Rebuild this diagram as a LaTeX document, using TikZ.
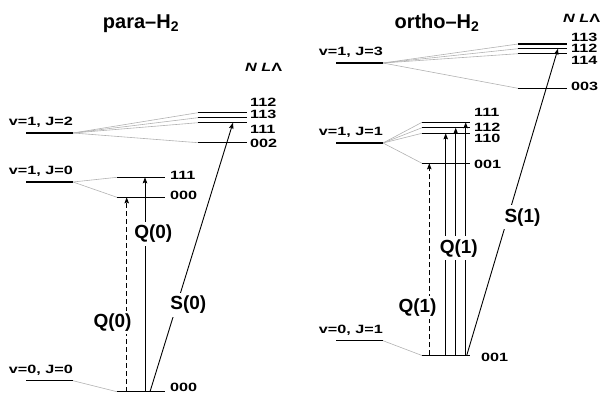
\documentclass[tikz,border=0pt]{standalone}
\usepackage{fontspec}
\setmainfont{Liberation Sans}
\newfontfamily\lvlfont{Liberation Sans}[FakeStretch=1.35,
  UprightFont={* Bold}, ItalicFont={* Bold Italic},
  BoldFont={* Bold}, BoldItalicFont={* Bold Italic}]
\usetikzlibrary{arrows.meta}

\begin{document}
\begin{tikzpicture}[x=1pt,y=-1pt,
  level/.style={line width=1.4pt},
  split/.style={draw=black!30, line width=0.6pt},
  trans/.style={line width=0.9pt, -{Stealth[length=6pt,width=4.5pt,inset=1pt]}},
  weak/.style={trans, dash pattern=on 5pt off 3pt},
  heading/.style={font=\bfseries\fontsize{20}{24}\selectfont, anchor=base, inner sep=0pt},
  state/.style={font=\lvlfont\fontsize{12}{14}\selectfont, anchor=base east, inner sep=0pt},
  sublevel/.style={font=\lvlfont\fontsize{12}{14}\selectfont, anchor=west, inner sep=0pt},
  branch/.style={font=\bfseries\fontsize{19}{22}\selectfont, fill=white, inner sep=3pt},
]
\useasboundingbox (0,0) rectangle (603,398);

% ---------------- para-H2 ----------------
\node[heading] (tpara) at (141,28.5) {para–H\textsubscript{2}};
\node[sublevel, anchor=base west] (qpara) at (245,71.7) {\itshape N L\upshape Λ};

% unperturbed rovibrational levels
\coordinate (pJ2w) at (26,133);    \coordinate (pJ2e) at (73,133);
\coordinate (pJ0w) at (26,182);    \coordinate (pJ0e) at (73,182);
\coordinate (pG0w) at (26,380.7);  \coordinate (pG0e) at (73,380.7);
% split sublevels
\coordinate (p112w) at (198,112.7); \coordinate (p112e) at (247,112.7);
\coordinate (p113w) at (198,117.7); \coordinate (p113e) at (247,117.7);
\coordinate (p11uw) at (198,122.7); \coordinate (p11ue) at (247,122.7);
\coordinate (p002w) at (198,142.7); \coordinate (p002e) at (247,142.7);
\coordinate (p111w) at (117,177.3); \coordinate (p111e) at (165,177.3);
\coordinate (p000w) at (117,197.3); \coordinate (p000e) at (165,197.3);
\coordinate (pgndw) at (117,391.7); \coordinate (pgnde) at (165,391.7);

\foreach \a in {p112w,p113w,p11uw,p002w} \draw[split] (pJ2e) -- (\a);
\foreach \a in {p111w,p000w} \draw[split] (pJ0e) -- (\a);
\draw[split] (pG0e) -- (pgndw);

\foreach \l in {pJ2,pJ0,pG0,p112,p113,p11u,p002,p111,p000,pgnd}
  \draw[level] (\l w) -- (\l e);

\node[state] (spJ2) at (73,126) {v=1, J=2};
\node[state] (spJ0) at (73,175) {v=1, J=0};
\node[state] (spG0) at (73,373.7) {v=0, J=0};

\node[sublevel] (lp112) at (250,102.3) {112};
\node[sublevel] (lp113) at (250,114.4) {113};
\node[sublevel] (lp11u) at (250,129.2) {111};
\node[sublevel] (lp002) at (250,143) {002};
\node[sublevel] (lp111) at (170,175) {111};
\node[sublevel] (lp000) at (170,195) {000};
\node[sublevel] (lpgnd) at (170,387.5) {000};

% transitions
\coordinate (pQd) at (126.7,391.7);
\coordinate (pQs) at (145,391.7);
\coordinate (pSa) at (150,391.7);
\coordinate (pSb) at (233,122.7);
\draw[weak]  (pQd) -- (pQd |- p000w);
\draw[trans] (pQs) -- (pQs |- p111w);
\draw[trans] (pSa) -- (pSb);

\node[branch] (bpQd) at (112.5,322.5) {Q(0)};
\node[branch] (bpQs) at (153.3,234) {Q(0)};
\node[branch] (bpS)  at (188.3,305) {S(0)};

% ---------------- ortho-H2 ----------------
\node[heading] (tortho) at (437,28.5) {ortho–H\textsubscript{2}};
\node[sublevel, anchor=base west] (qortho) at (563,22.5) {\itshape N L\upshape Λ};

\coordinate (oJ3w) at (336,63);    \coordinate (oJ3e) at (383,63);
\coordinate (oJ1w) at (336,143);   \coordinate (oJ1e) at (383,143);
\coordinate (oG1w) at (336,340.7); \coordinate (oG1e) at (383,340.7);
\coordinate (o113w) at (518,44);    \coordinate (o113e) at (567,44);
\coordinate (o11uw) at (518,48.7);  \coordinate (o11ue) at (567,48.7);
\coordinate (o114w) at (518,53.7);  \coordinate (o114e) at (567,53.7);
\coordinate (o003w) at (518,88.3);  \coordinate (o003e) at (567,88.3);
\coordinate (o111w) at (422,122.3); \coordinate (o111e) at (470,122.3);
\coordinate (o112w) at (422,127.7); \coordinate (o112e) at (470,127.7);
\coordinate (o110w) at (422,133.3); \coordinate (o110e) at (470,133.3);
\coordinate (o001w) at (422,163.3); \coordinate (o001e) at (470,163.3);
\coordinate (ogndw) at (422,355.5); \coordinate (ognde) at (470,355.5);

\foreach \a in {o113w,o11uw,o114w,o003w} \draw[split] (oJ3e) -- (\a);
\foreach \a in {o111w,o112w,o110w,o001w} \draw[split] (oJ1e) -- (\a);
\draw[split] (oG1e) -- (ogndw);

\foreach \l in {oJ3,oJ1,oG1,o113,o11u,o114,o003,o111,o112,o110,o001,ognd}
  \draw[level] (\l w) -- (\l e);

\node[state] (soJ3) at (383,56) {v=1, J=3};
\node[state] (soJ1) at (383,136) {v=1, J=1};
\node[state] (soG1) at (383,333.7) {v=0, J=1};

\node[sublevel] (lo113) at (571,37.2) {113};
\node[sublevel] (lo11u) at (571,48.4) {112};
\node[sublevel] (lo114) at (571,60) {114};
\node[sublevel] (lo003) at (571,86.7) {003};
\node[sublevel] (lo111) at (474,112) {111};
\node[sublevel] (lo112) at (474,127.7) {112};
\node[sublevel] (lo110) at (474,138.3) {110};
\node[sublevel] (lo001) at (474,164) {001};
\node[sublevel] (lognd) at (481,357.5) {001};

\coordinate (oQd)  at (429.3,355.5);
\coordinate (oQs1) at (445.7,355.5);
\coordinate (oQs2) at (455.7,355.5);
\coordinate (oQs3) at (465.7,355.5);
\coordinate (oSa)  at (466.7,355.5);
\coordinate (oSb)  at (558,48.7);
\draw[weak]  (oQd)  -- (oQd  |- o001w);
\draw[trans] (oQs1) -- (oQs1 |- o110w);
\draw[trans] (oQs2) -- (oQs2 |- o112w);
\draw[trans] (oQs3) -- (oQs3 |- o111w);
\draw[trans] (oSa) -- (oSb);

\node[branch] (boQd) at (417.5,307.5) {Q(1)};
\node[branch] (boQs) at (458.8,248.3) {Q(1)};
\node[branch] (boS)  at (522.5,217.2) {S(1)};
\end{tikzpicture}
\end{document}
